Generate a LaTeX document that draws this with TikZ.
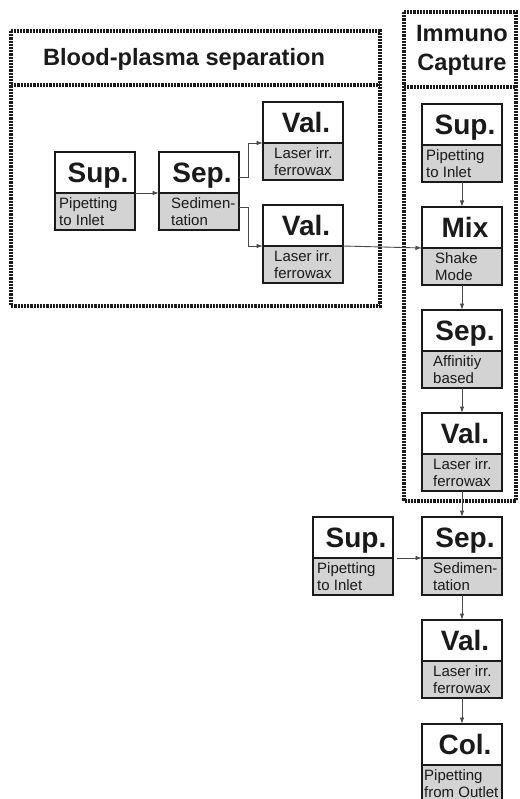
\documentclass[tikz,border=0pt]{standalone}
\usepackage{fontspec}
\setmainfont{Liberation Sans}
\usetikzlibrary{arrows.meta}
\definecolor{frameC}{HTML}{1A1A1A}
\definecolor{subfill}{HTML}{D3D3D3}
\definecolor{arrC}{HTML}{4A4A4A}
\definecolor{txtC}{HTML}{1A1A1A}
\tikzset{
  hdr/.style={draw=frameC, line width=2.4pt, fill=white, minimum width=80pt, minimum height=41pt, inner sep=0pt, outer sep=0pt},
  subpart/.style={draw=frameC, line width=2.4pt, fill=subfill, minimum width=80pt, minimum height=37pt, inner sep=0pt, outer sep=0pt},
  hdrtxt/.style={font=\fontsize{28}{30}\selectfont\bfseries, text=txtC, inner sep=0pt, text height=20pt, text depth=0pt},
  subtxt/.style={font=\fontsize{15}{17}\selectfont, text=txtC, align=left, inner sep=0pt},
  titletxt/.style={font=\fontsize{23.6}{29}\selectfont\bfseries, text=txtC, align=center, inner sep=0pt},
  groupframe/.style={draw=frameC, line width=3.2pt, dash pattern=on 2.2pt off 1pt},
  arr/.style={draw=arrC, line width=0.9pt, -{Latex[length=6.5pt,width=4.5pt]}},
}
\newcommand\procbox[6]{%
  \node[hdr, anchor=north west] (#1h) at (#2,#3) {};
  \node[subpart, anchor=north west] (#1b) at (#1h.south west) {};
  \node[hdrtxt] (#1ht) at ([xshift=3pt]#1h.center) {#4};
  \node[subtxt, anchor=west] (#1bt) at ([xshift=#6]#1b.west) {#5};
}
\begin{document}
\begin{tikzpicture}[x=1pt,y=-1pt]
\useasboundingbox (0,0) rectangle (519,799);
% group frames
\draw[groupframe] (11,31) rectangle (380,306);
\draw[groupframe] (11,85) -- (380,85);
\draw[groupframe] (404,12) rectangle (516,501);
\draw[groupframe] (404,87) -- (516,87);
\node[titletxt] (t1) at (184,59) {Blood-plasma separation};
\node[titletxt] (t2) at (462,50) {Immuno\\Capture};
% boxes
\procbox{bsup}{55}{152}{Sup.}{Pipetting\\to Inlet}{4pt}
\procbox{bsep}{159}{152}{Sep.}{Sedimen-\\tation}{12pt}
\procbox{bvala}{263}{102}{Val.}{Laser irr.\\ferrowax}{11pt}
\procbox{bvalb}{263}{205}{Val.}{Laser irr.\\ferrowax}{11pt}
\procbox{isup}{422}{104}{Sup.}{Pipetting\\to Inlet}{4pt}
\procbox{imix}{422}{207}{Mix}{Shake\\Mode}{13pt}
\procbox{isep}{422}{310}{Sep.}{Affinitiy\\based}{11pt}
\procbox{ival}{422}{413}{Val.}{Laser irr.\\ferrowax}{11pt}
\procbox{lsep}{422}{517}{Sep.}{Sedimen-\\tation}{11pt}
\procbox{lsup}{313}{517}{Sup.}{Pipetting\\to Inlet}{4pt}
\procbox{lval}{422}{620}{Val.}{Laser irr.\\ferrowax}{11pt}
\procbox{lcol}{422}{724}{Col.}{Pipetting\\from Outlet}{2pt}
% connectors
\draw[arr] (bsuph.south east) -- (bseph.south west);
\draw[arr] ([yshift=-5pt]bseph.east) -- ++(9,0) |- (bvalah.south west);
\draw[arr] ([yshift=4pt]bsepb.east) -- ++(9,0) |- (bvalbh.south west);
\draw[arr] (bvalbh.south east) -- (imixh.south west);
\draw[arr] (isupb.south) -- (imixh.north);
\draw[arr] (imixb.south) -- (iseph.north);
\draw[arr] (isepb.south) -- (ivalh.north);
\draw[arr] (ivalb.south) -- (lseph.north);
\draw[arr] ([xshift=4pt]lsuph.south east) -- (lseph.south west);
\draw[arr] (lsepb.south) -- (lvalh.north);
\draw[arr] (lvalb.south) -- (lcolh.north);
\end{tikzpicture}
\end{document}
